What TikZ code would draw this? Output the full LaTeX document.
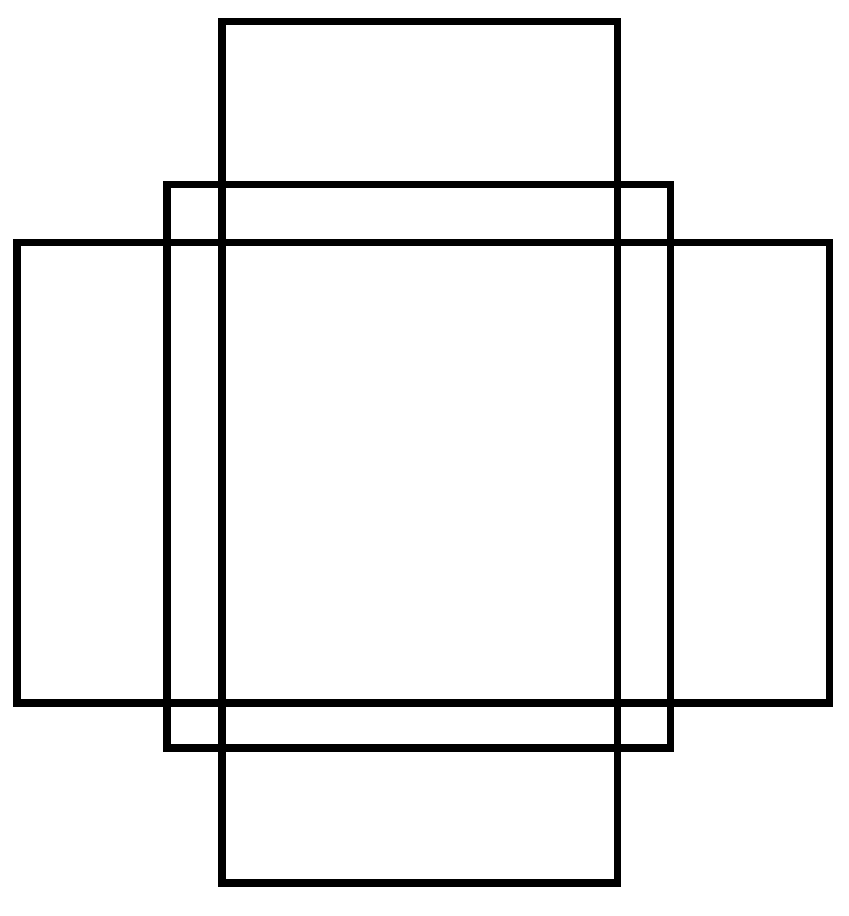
\documentclass[tikz,border=0pt]{standalone}
\usetikzlibrary{positioning,calc}
\tikzset{frame/.style={draw=black, line width=2pt}}

\begin{document}
\begin{tikzpicture}
	\useasboundingbox (0, 0) rectangle (8.48, 9.16);
	\begin{scope}
		% tall one
		\draw [frame] (2.22, 0.33) rectangle (6.17, 8.94);
		% middle one
		\draw [frame] (1.67, 1.68) rectangle (6.70, 7.31);
		% wide one
		\draw [frame] (0.17, 2.13) rectangle (8.29, 6.73);
	\end{scope}
\end{tikzpicture}
\end{document}
